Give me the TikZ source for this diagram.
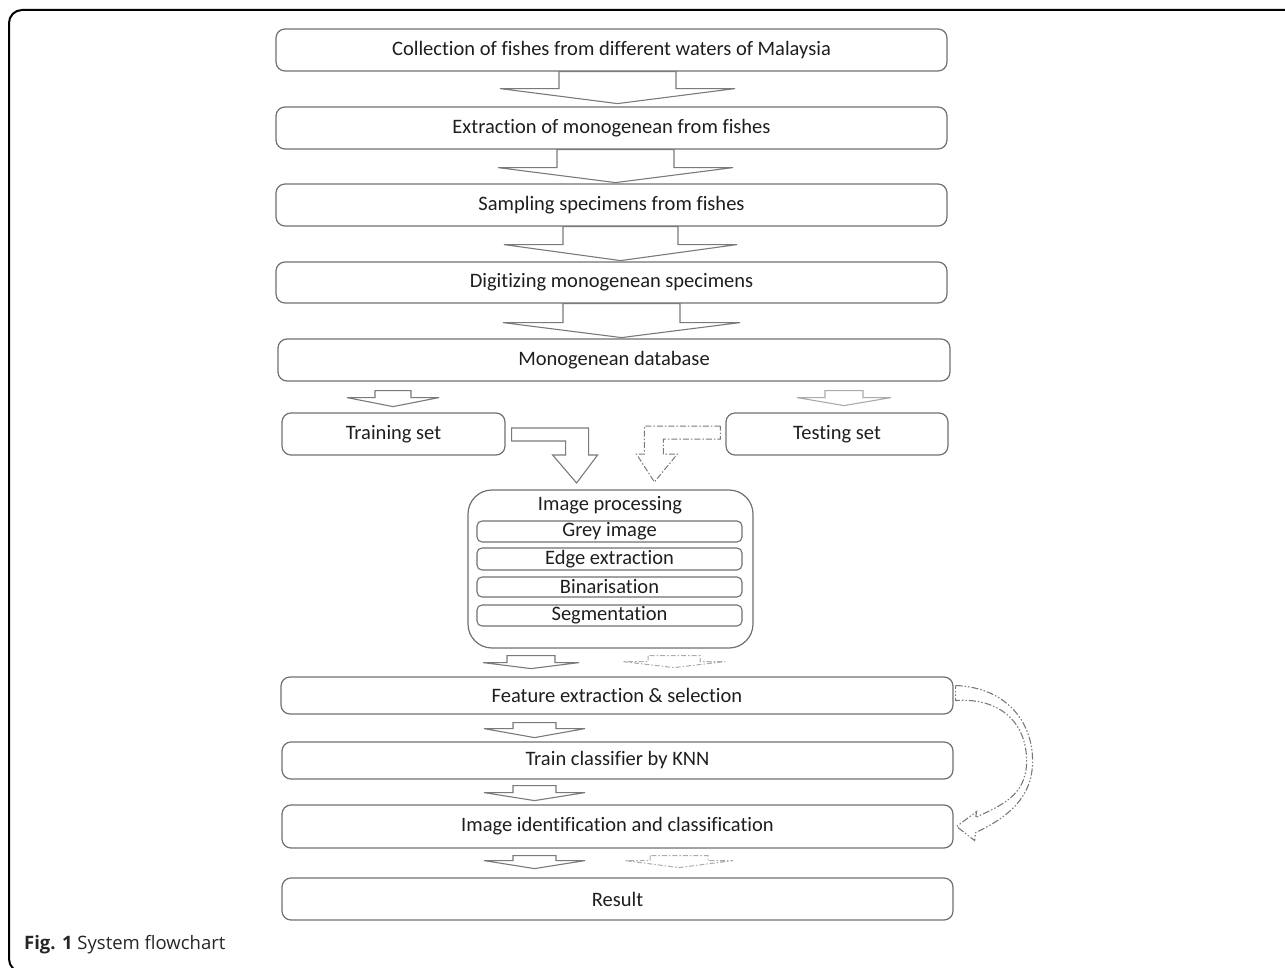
\documentclass[tikz,border=0pt]{standalone}
\usepackage{fontspec}
\setmainfont{Carlito}[Ligatures=NoCommon]
\newfontfamily\capfont{Open Sans}
\usetikzlibrary{calc}
\definecolor{boxgrey}{HTML}{707070}
\definecolor{arrgrey}{HTML}{7A7A7A}
\definecolor{lightarr}{HTML}{ABABAB}
\definecolor{txt}{HTML}{1E1E1E}
\tikzset{
  box/.style={draw=boxgrey, line width=1.2pt, rounded corners=9pt, inner sep=0pt,
    text=txt, font=\fontsize{20.5}{23}\selectfont},
  subbox/.style={box, rounded corners=5pt, line width=1.1pt},
  blk/.style={draw=arrgrey, line width=1.1pt, line join=miter},
  lightblk/.style={draw=lightarr, line width=1.1pt, line join=miter},
  dd/.style={draw=arrgrey, line width=1pt, dash pattern=on 6pt off 2pt on 1.5pt off 2pt},
  ddlight/.style={draw=lightarr, line width=1pt, dash pattern=on 5pt off 2pt on 1.5pt off 2pt},
  curvy/.style={draw=arrgrey, line width=1.1pt, dash pattern=on 7pt off 2pt on 1.5pt off 2pt on 1.5pt off 2pt},
}
% box by edges: name, x1, x2, y1, y2, text
\newcommand\mybox[7][box]{\node[#1, minimum width={(#4)-(#3)}, minimum height={(#6)-(#5)}]
  (#2) at ({((#3)+(#4))/2},{((#5)+(#6))/2}) {#7};}
% block arrow: style, node, gap, shaft left x, shaft width, wing ext, wing drop, tip drop
\newcommand\barrow[8]{%
  \coordinate (tmp) at ($(#2.south)+(0,#3)$);
  \draw[#1] (#4,0 |- tmp) -- ++(0,#7) -- ++(-#6,0) -- ++({#6+#5/2},{#8-#7})
    -- ++({#6+#5/2},{-(#8-#7)}) -- ++(-#6,0) -- ++(0,-#7) -- cycle;}
\begin{document}
\begin{tikzpicture}[x=1pt,y=-1pt]
\useasboundingbox (0,0) rectangle (1285,968);
% outer frame
\draw[line width=2pt, black, rounded corners=13pt] (1300,10) -- (9,10) -- (9,972) -- (40,972);

\mybox{b1}{276}{947}{29}{71}{Collection of fishes from different waters of Malaysia}
\mybox{b2}{276}{947}{107}{149}{Extraction of monogenean from fishes}
\mybox{b3}{276}{947}{184}{226}{Sampling specimens from fishes}
\mybox{b4}{276}{947}{262}{303}{Digitizing monogenean specimens}
\mybox{b5}{278}{950}{339}{381}{Monogenean database}
\mybox{train}{282}{505}{413}{455}{Training set}
\mybox{test}{726}{948}{413}{455}{Testing set}
\mybox[box,rounded corners=24pt]{ip}{468}{753}{490}{648}{}
\node[text=txt, font=\fontsize{20.5}{23}\selectfont] (iplab) at (610,505) {Image processing};
\mybox[subbox]{grey}{477}{742}{521}{542}{Grey image}
\mybox[subbox]{edge}{477}{742}{548}{570}{Edge extraction}
\mybox[subbox]{bin}{477}{742}{577}{597}{Binarisation}
\mybox[subbox]{seg}{477}{742}{605}{626}{Segmentation}
\mybox{feat}{281}{953}{677}{714}{Feature extraction \& selection}
\mybox{knn}{282}{953}{742}{779}{Train classifier by KNN}
\mybox{ident}{282}{953}{805}{848}{Image identification and classification}
\mybox{res}{282}{953}{878}{920}{Result}

% big block arrows
\barrow{blk}{b1}{0}{559}{117}{59}{17}{32}
\barrow{blk}{b2}{0}{557}{117}{59}{18}{33}
\barrow{blk}{b3}{0}{563}{115}{59}{18}{34}
\barrow{blk}{b4}{0}{563}{117}{60}{19}{34}
% small arrows
\barrow{blk}{b5}{9}{375}{36}{28}{7}{16}
\barrow{lightblk}{b5}{9}{825}{38}{28}{7}{15}
\barrow{blk}{ip}{7}{507}{48}{24}{7}{13}
\barrow{ddlight}{ip}{7}{648}{52}{25}{6}{12}
\barrow{blk}{feat}{8}{513}{43}{29}{6}{15}
\barrow{blk}{knn}{6}{513}{43}{29}{7}{15}
\barrow{blk}{ident}{7}{513}{43}{29}{5}{13}
\barrow{ddlight}{ident}{7}{650}{58}{25}{5}{12}

% bent arrows into image processing
\draw[blk] ($(train.east)+(6,-6)$) -- ++(77,0) -- ++(0,27) -- ++(9,0) -- ++(-21,28)
  -- ++(-24,-28) -- ++(13,0) -- ++(0,-14) -- ++(-54,0) -- cycle;
\draw[dd] ($(test.west)+(-5,-8)$) -- ++(-76,0) -- ++(0,28) -- ++(-8,0) -- ++(18,28)
  -- ++(23,-28) -- ++(-14,0) -- ++(0,-15) -- ++(57,0) -- cycle;

% curved hollow arrow from feature extraction to identification
\draw[curvy] ($(feat.east)+(2,-10)$)
  .. controls +(50,2) and +(0,-40) .. ($(feat.east)!.5!(ident.east)+(79,0)$)
  .. controls +(0,38) and +(30,-14) .. ($(ident.east)+(22,6)$)
  -- ($(ident.east)+(21,14)$) -- ($(ident.east)+(3,0)$) -- ($(ident.east)+(23,-15)$)
  -- ($(ident.east)+(22,-9)$)
  .. controls +(25,-12) and +(0,35) .. ($(feat.east)!.5!(ident.east)+(73,0)$)
  .. controls +(0,-38) and +(45,-3) .. ($(feat.east)+(2,5)$) -- cycle;

% caption
\node[anchor=west, inner sep=0pt, text=black!85, font=\capfont\fontsize{18.5}{21}\selectfont] (cap) at (24,945)
  {\textbf{Fig. 1} System flowchart};
\end{tikzpicture}
\end{document}
